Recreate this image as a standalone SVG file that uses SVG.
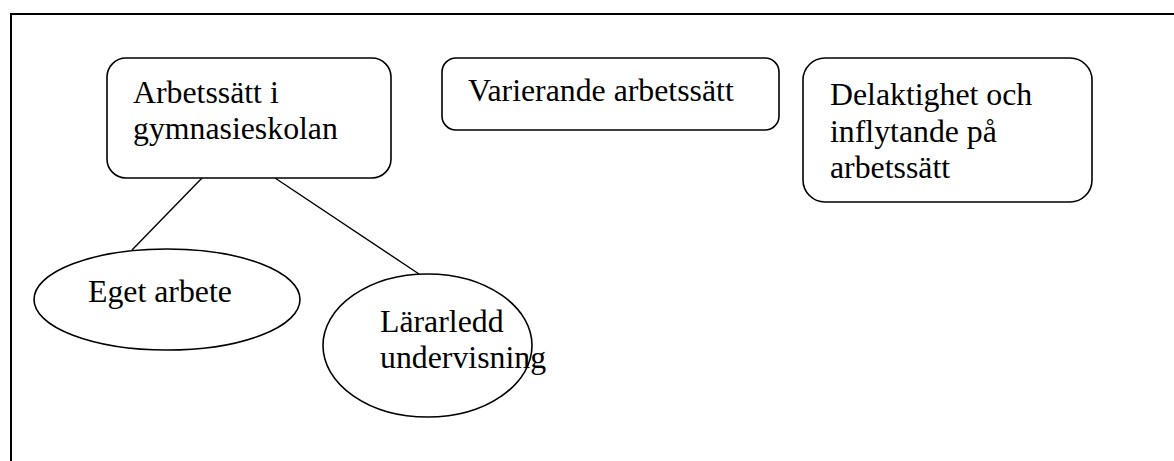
<svg xmlns="http://www.w3.org/2000/svg" width="1174" height="461" viewBox="0 0 1174 461">
<style>
.frame{fill:none;stroke:#000;stroke-width:2}
.box{fill:#fff;stroke:#000;stroke-width:1.6}
.edge{stroke:#000;stroke-width:1.4;fill:none}
.t{font-family:"Liberation Serif","Times New Roman",serif;font-size:31.8px;fill:#000}
</style>
<rect width="1174" height="461" fill="#fff"/>
<rect class="frame" x="11" y="14" width="1180" height="470"/>
<g id="connectors">
<line class="edge" x1="202" y1="178" x2="132" y2="250"/>
<line class="edge" x1="275" y1="178" x2="419" y2="274"/>
</g>
<g id="node-arbetssatt">
<rect class="box" x="107" y="58" width="284" height="120" rx="19"/>
<text class="t" x="133" y="103">Arbetssätt i</text>
<text class="t" x="133" y="139">gymnasieskolan</text>
</g>
<g id="node-varierande">
<rect class="box" x="442" y="58" width="337" height="72" rx="14"/>
<text class="t" x="468" y="101">Varierande arbetssätt</text>
</g>
<g id="node-delaktighet">
<rect class="box" x="803" y="58" width="289" height="144" rx="22"/>
<text class="t" x="830" y="105">Delaktighet och</text>
<text class="t" x="830" y="142">inflytande på</text>
<text class="t" x="830" y="178">arbetssätt</text>
</g>
<g id="node-eget">
<ellipse class="box" cx="167" cy="299.5" rx="133" ry="50.5"/>
<text class="t" x="88" y="302">Eget arbete</text>
</g>
<g id="node-lararledd">
<ellipse class="box" cx="427.5" cy="345.5" rx="104.5" ry="71.5"/>
<text class="t" x="380" y="332">Lärarledd</text>
<text class="t" x="380" y="368">undervisning</text>
</g>
</svg>
